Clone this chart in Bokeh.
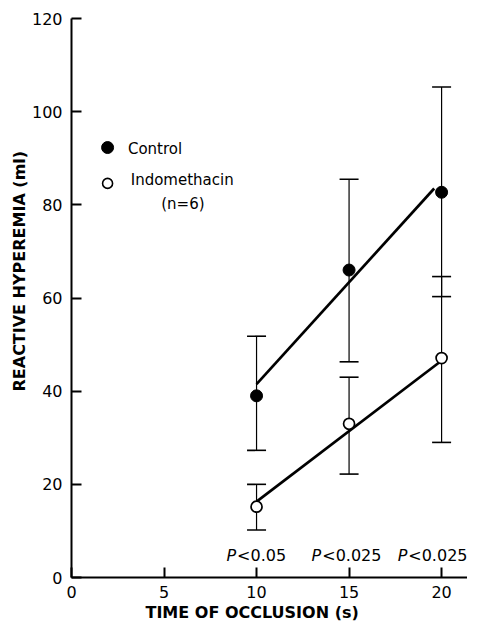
from bokeh.plotting import figure
from bokeh.models import ColumnDataSource, Whisker, TeeHead, Title, FixedTicker
from bokeh.core.properties import value
from bokeh.embed import file_html
from bokeh.resources import INLINE

# ---- data ----
occlusion_s = [10, 15, 20]
control_mean = [39.0, 66.0, 82.7]
control_upper = [51.8, 85.5, 105.3]
control_lower = [27.3, 46.3, 60.3]
indo_mean = [15.2, 33.0, 47.1]
indo_upper = [20.0, 43.0, 64.6]
indo_lower = [10.2, 22.2, 29.0]

control_fit_x = [10, 19.6]
control_fit_y = [41.5, 83.5]
indo_fit_x = [10, 19.85]
indo_fit_y = [16.3, 46.1]

p_labels = ["<0.05", "<0.025", "<0.025"]
p_label_x = [8.95, 13.55, 18.2]
p_label_y = [4.8, 4.8, 4.8]

legend_labels = ["Control", "Indomethacin", "(n=6)"]
legend_text_x = [3.05, 3.2, 4.85]
legend_text_y = [92.0, 85.4, 80.2]
legend_marker_x = [1.95, 1.95]
legend_marker_y = [92.3, 84.6]

x_ticks = [0, 5, 10, 15, 20]
y_ticks = [0, 20, 40, 60, 80, 100, 120]

FONT = "DejaVu Sans"

p = figure(width=467, height=624, x_range=(0, 21.4), y_range=(0, 120),
           output_backend="svg", toolbar_location=None,
           min_border_left=71, min_border_right=0, min_border_top=18,
           min_border_bottom=47)
p.outline_line_color = None
p.grid.visible = False
p.background_fill_color = "white"

for ax in (p.xaxis[0], p.yaxis[0]):
    ax.axis_line_width = 2
    ax.major_tick_line_width = 2
    ax.major_tick_in = 10
    ax.major_tick_out = 0
    ax.minor_tick_line_color = None
    ax.major_label_text_font = FONT
    ax.major_label_text_font_size = "16px"
    ax.major_label_text_color = "black"
    ax.axis_line_color = "black"
    ax.major_tick_line_color = "black"

p.xaxis.ticker = FixedTicker(ticks=x_ticks)
p.yaxis.ticker = FixedTicker(ticks=y_ticks)
p.xaxis.major_label_standoff = 8
p.yaxis.major_label_standoff = 9

# fit lines
p.line(control_fit_x, control_fit_y, line_color="black", line_width=2.7)
p.line(indo_fit_x, indo_fit_y, line_color="black", line_width=2.7)

# error bars
csrc = ColumnDataSource(dict(x=occlusion_s, y=control_mean, up=control_upper, lo=control_lower))
isrc = ColumnDataSource(dict(x=occlusion_s, y=indo_mean, up=indo_upper, lo=indo_lower))
for src in (csrc, isrc):
    w = Whisker(base="x", upper="up", lower="lo", source=src, line_color="black", line_width=1.2,
                upper_head=TeeHead(size=19, line_width=1.6, line_color="black"),
                lower_head=TeeHead(size=19, line_width=1.6, line_color="black"))
    p.add_layout(w)

# points
p.scatter("x", "y", source=csrc, size=12, marker="circle", fill_color="black", line_color="black")
p.scatter("x", "y", source=isrc, size=11, marker="circle", fill_color="white", line_color="black", line_width=1.7)

# legend (drawn manually)
p.scatter(legend_marker_x[:1], legend_marker_y[:1], size=12, marker="circle",
          fill_color="black", line_color="black")
p.scatter(legend_marker_x[1:], legend_marker_y[1:], size=10, marker="circle",
          fill_color="white", line_color="black", line_width=1.6)
p.text(legend_text_x, legend_text_y, text=legend_labels, text_font=value(FONT),
       text_font_size="15px", text_baseline="middle", text_align="left")

# P-values
p.text(p_label_x, p_label_y, text=["P"] * 3, text_font=value(FONT), text_font_size="16px",
       text_font_style="italic", text_baseline="middle", text_align="right", x_offset=-1)
p.text(p_label_x, p_label_y, text=p_labels, text_font=value(FONT), text_font_size="16px",
       text_baseline="middle", text_align="left")

# axis titles
p.add_layout(Title(text="REACTIVE HYPEREMIA (ml)", align="left", offset=186, standoff=0,
                   text_font=FONT, text_font_size="16px", text_font_style="bold",
                   text_color="black"), "left")
p.add_layout(Title(text="TIME OF OCCLUSION (s)", align="left", offset=74, standoff=0,
                   text_font=FONT, text_font_size="16px", text_font_style="bold",
                   text_color="black"), "below")

open("out.html", "w").write(file_html(p, INLINE))
